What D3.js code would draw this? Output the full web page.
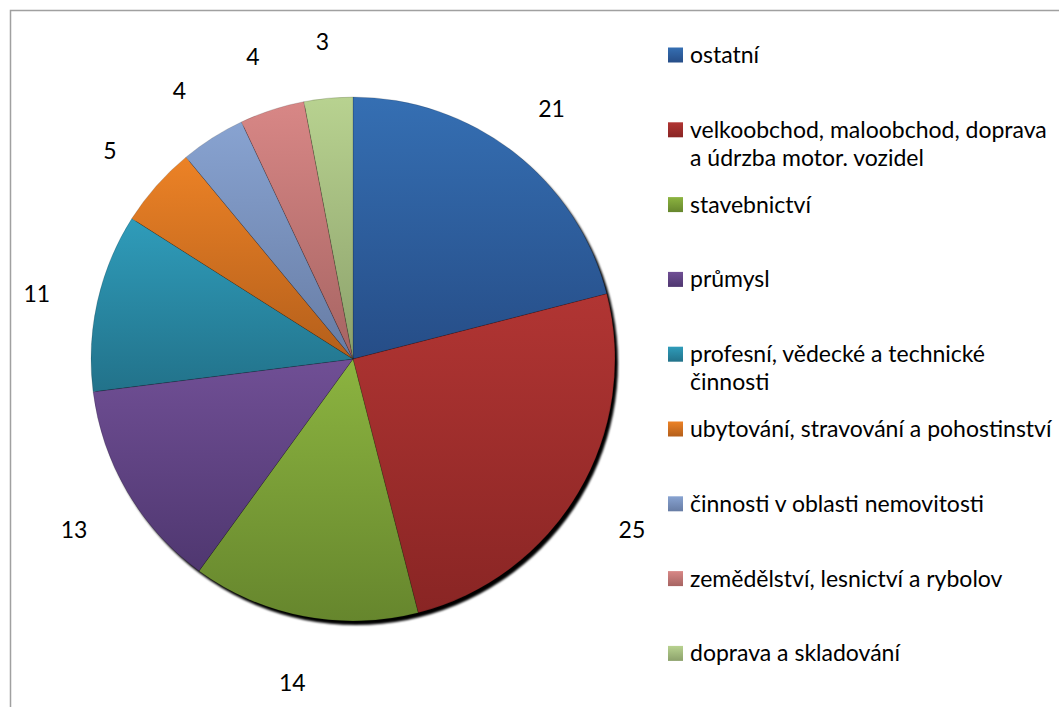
<!DOCTYPE html>
<html>
<head>
<meta charset="utf-8">
<script src="https://cdn.jsdelivr.net/npm/d3@7"></script>
<style>
  body { margin: 0; background: #fff; }
  svg { display: block; font-family: Lato, "Open Sans", sans-serif; }
</style>
</head>
<body>
<script>
// categories in drawing order (clockwise from 12 o'clock)
const categories = [
  "ostatní",
  "velkoobchod, maloobchod, doprava|a údrzba motor. vozidel",
  "stavebnictví",
  "průmysl",
  "profesní, vědecké a technické|činnosti",
  "ubytování, stravování a pohostinství",
  "činnosti v oblasti nemovitosti",
  "zemědělství, lesnictví a rybolov",
  "doprava a skladování"
];
const values = [21, 25, 14, 13, 11, 5, 4, 4, 3];
// light (top) / dark (bottom) gradient stops per slice
const colorsTop = ["#356fb3", "#b13533", "#8cb440", "#704f95", "#2f9cba", "#ec8226", "#88a3d1", "#d88786", "#b8d290"];
const colorsBot = ["#264d87", "#892524", "#66862d", "#4f3770", "#22728a", "#b45f1b", "#677ca4", "#a66462", "#8ca16b"];

const W = 1059, H = 707;
const cx = 353, cy = 359, r = 262;

const svg = d3.select("body").append("svg").attr("width", W).attr("height", H);
const defs = svg.append("defs");

colorsTop.forEach(function(c, i) {
  const g = defs.append("linearGradient").attr("id", "grad" + i)
    .attr("x1", 0).attr("y1", 0).attr("x2", 0).attr("y2", 1);
  g.append("stop").attr("offset", "0%").attr("stop-color", c);
  g.append("stop").attr("offset", "100%").attr("stop-color", colorsBot[i]);
});
defs.append("filter").attr("id", "blur")
  .append("feGaussianBlur").attr("stdDeviation", 0.8);

// chart area frame
svg.append("rect")
  .attr("x", 10.5).attr("y", 10.5)
  .attr("width", W + 20).attr("height", H + 20)
  .attr("fill", "none").attr("stroke", "#a0a0a0").attr("stroke-width", 1.5);

const pie = d3.pie().sort(null).value(d => d);
const arcs = pie(values);
const arc = d3.arc().innerRadius(0).outerRadius(r);

const g = svg.append("g").attr("transform", "translate(" + cx + "," + cy + ")");

// drop shadow
g.append("circle").attr("cx", 3).attr("cy", 4).attr("r", r)
  .attr("fill", "#000").attr("filter", "url(#blur)");

g.selectAll("path.slice").data(arcs).enter().append("path")
  .attr("class", "slice")
  .attr("d", arc)
  .attr("fill", (d, i) => "url(#grad" + i + ")")
  .attr("stroke", "rgba(0,0,0,0.3)")
  .attr("stroke-width", 0.5);

// value labels outside
const labelArc = d3.arc().innerRadius(324).outerRadius(324);
g.selectAll("text.val").data(arcs).enter().append("text")
  .attr("class", "val")
  .attr("transform", d => "translate(" + labelArc.centroid(d) + ")")
  .attr("text-anchor", "middle")
  .attr("dy", "0.6em")
  .attr("font-size", 23)
  .attr("fill", "#000")
  .text(d => d.value);

// legend
const legend = svg.append("g").attr("transform", "translate(668,55)");
const rows = legend.selectAll("g").data(categories).enter().append("g")
  .attr("transform", (d, i) => "translate(0," + (i * 74.8) + ")");
rows.append("rect")
  .attr("x", 0).attr("y", -7.5).attr("width", 15).attr("height", 15)
  .attr("fill", (d, i) => "url(#grad" + i + ")");
rows.append("text")
  .attr("x", 22)
  .attr("font-size", 23)
  .attr("fill", "#000")
  .each(function(d) {
    const t = d3.select(this);
    d.split("|").forEach(function(line, j) {
      t.append("tspan").attr("x", 22).attr("y", j * 28).attr("dy", "0.35em").text(line);
    });
  });
</script>
</body>
</html>
